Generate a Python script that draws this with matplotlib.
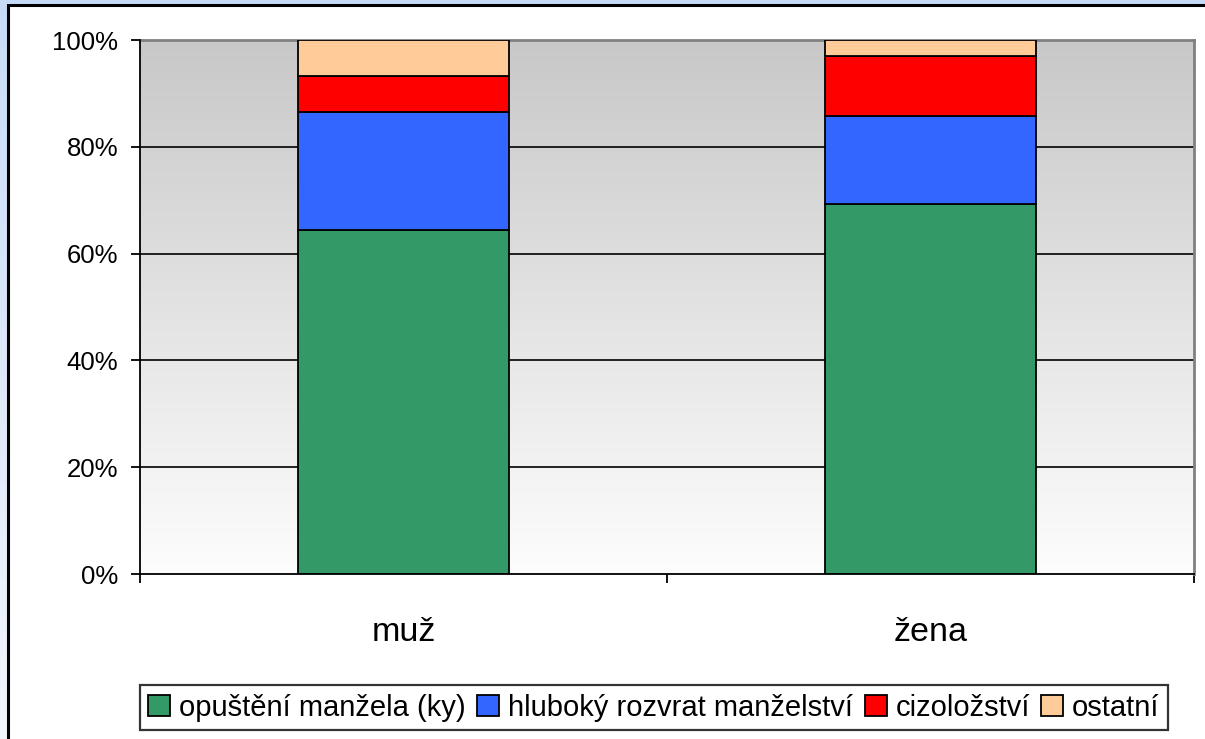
import numpy as np
import matplotlib.pyplot as plt
from matplotlib.patches import Rectangle

plt.rcParams['font.family'] = ['Liberation Sans', 'DejaVu Sans']

kategorie = ["muž", "žena"]
serie = ["opuštění manžela (ky)", "hluboký rozvrat manželství", "cizoložství", "ostatní"]
opusteni = [64.4, 69.2]
rozvrat = [22.2, 16.6]
cizolozstvi = [6.7, 11.2]
ostatni = [6.7, 3.0]
barvy = ["#339966", "#3366FF", "#FF0000", "#FFCC99"]
yticks = [0, 20, 40, 60, 80, 100]

fig = plt.figure(figsize=(12.05, 7.39), dpi=100)

# modry pozadi s prechodem
bg = fig.add_axes([0, 0, 1, 1], zorder=-10)
grad = np.linspace(0, 1, 256).reshape(-1, 1)
top = np.array([0.78, 0.86, 0.97])
bot = np.array([0.95, 0.96, 0.99])
img = top + (bot - top) * grad[:, :, None]
bg.imshow(img, aspect="auto", extent=[0, 1, 0, 1])
bg.set_xlim(0, 1)
bg.set_ylim(0, 1)
bg.axis("off")
bg.add_patch(Rectangle((8 / 1205, -0.1), 1.2, 1 - 5 / 739 + 0.1, facecolor="white",
                       edgecolor="black", lw=2.2))

ax = fig.add_axes([140 / 1205, 165 / 739, 1054 / 1205, 534 / 739])

# sedy prechod v ploše grafu (nahore tmavsi)
g = np.linspace(200, 253, 256).reshape(-1, 1) / 255.0
ax.imshow(np.repeat(g[:, :, None], 3, axis=2), aspect="auto",
          extent=[-0.5, 1.5, 0, 100], zorder=0)

x = np.arange(len(kategorie))
dolni = np.zeros(len(kategorie))
for hodnoty, barva, nazev in zip([opusteni, rozvrat, cizolozstvi, ostatni], barvy, serie):
    ax.bar(x, hodnoty, 0.4, bottom=dolni, color=barva, edgecolor="black", lw=1.3,
           label=nazev, zorder=3)
    dolni += np.array(hodnoty)

for yv in yticks[1:-1]:
    ax.axhline(yv, color="black", lw=1.2, zorder=1)

ax.set_xlim(-0.5, 1.5)
ax.set_ylim(0, 100)
ax.set_yticks(yticks)
ax.set_yticklabels([f"{v}%" for v in yticks], fontsize=18.5)
ax.tick_params(axis="y", length=6.5, width=1.3, pad=9)

ax.set_xticks(x)
ax.set_xticklabels(kategorie, fontsize=24.5)
ax.set_xticks([-0.5, 0.5, 1.5], minor=True)
ax.tick_params(axis="x", which="major", length=0, pad=31)
ax.tick_params(axis="x", which="minor", length=6.5, width=1.3)

for s in ["left", "bottom"]:
    ax.spines[s].set_color("black")
    ax.spines[s].set_linewidth(1.3)
    ax.spines[s].set_zorder(4)
for s in ["top", "right"]:
    ax.spines[s].set_color("#808080")
    ax.spines[s].set_linewidth(2)

leg = fig.legend(loc="center", bbox_to_anchor=(654 / 1205, 31.5 / 739), ncol=4,
                 fontsize=21, frameon=True, fancybox=False, edgecolor="black",
                 handlelength=0.75, handleheight=0.75, handletextpad=0.3,
                 columnspacing=0.4, borderpad=0.3, borderaxespad=0)
leg.get_frame().set_linewidth(1.6)

plt.savefig("out.png", dpi=100)
plt.close()
